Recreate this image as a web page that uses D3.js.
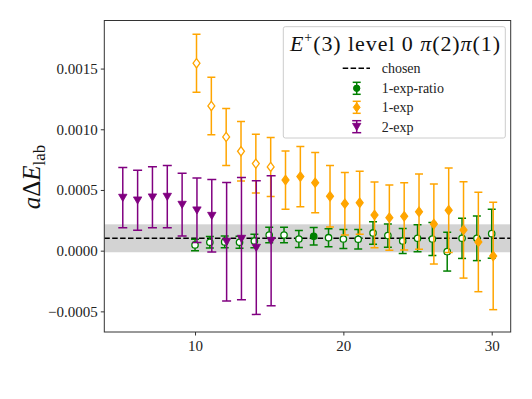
<!DOCTYPE html>
<html><head><meta charset="utf-8">
<script src="https://cdn.jsdelivr.net/npm/d3@7"></script>
<style>body{margin:0;background:#fff}svg{display:block}text{font-family:"Liberation Serif","DejaVu Serif",serif}</style>
</head><body><svg id="c" width="532" height="399"></svg>
<script>
// ---- data ----
const ratioT = [10,11,12,13,14,15,16,17,18,19,20,21,22,23,24,25,26,27,28,29,30];
const ratioV = [0.000047,0.000069,0.000072,0.000069,0.000080,0.000129,0.000129,0.000096,0.000118,0.000107,0.000096,0.000094,0.000146,0.000124,0.000080,0.000102,0.000096,-0.000008,0.000102,0.000102,0.000140];
const ratioE = [0.000048,0.000048,0.000048,0.000050,0.000056,0.000063,0.000063,0.000070,0.000072,0.000074,0.000079,0.000080,0.000093,0.000096,0.000103,0.000111,0.000136,0.000160,0.000166,0.000184,0.000202];
const chosenT = 18;

const oneT = [10,11,12,13,14,15,16,17,18,19,20,21,22,23,24,25,26,27,28,29,30];
const oneV = [0.001544,0.001192,0.000937,0.000819,0.000717,0.000690,0.000582,0.000610,0.000560,0.000448,0.000387,0.000395,0.000294,0.000272,0.000283,0.000321,0.000220,0.000333,0.000171,0.000072,-0.000044];
const oneE = [0.000239,0.000237,0.000235,0.000245,0.000242,0.000243,0.000240,0.000248,0.000248,0.000253,0.000257,0.000260,0.000271,0.000268,0.000277,0.000310,0.000330,0.000348,0.000397,0.000410,0.000442];
const oneOpenUntil = 15;

const twoT = [5,6,7,8,9,10,11,12,13,14,15];
const twoV = [0.000437,0.000415,0.000440,0.000445,0.000379,0.000333,0.000288,0.000074,0.000099,0.000025,0.000082];
const twoE = [0.000248,0.000247,0.000252,0.000257,0.000258,0.000265,0.000299,0.000488,0.000504,0.000550,0.000536];

const chosenVal = 0.000102, chosenErr = 0.000115;
const yTicks = [-0.0005, 0.0, 0.0005, 0.0010, 0.0015];
const xTicks = [10, 20, 30];
const legendLabels = ["chosen", "1-exp-ratio", "1-exp", "2-exp"];

// ---- layout ----
const L = 104.3, R = 510.7, T = 20.5, B = 332;
const svg = d3.select("#c");
const x = d3.scaleLinear().domain([3.884, 31.28]).range([L, R]);
const y = d3.scaleLinear().domain([-0.000670, 0.001896]).range([B, T]);
const GREEN = "#008000", ORANGE = "#ffa500", PURPLE = "#800080";
const offO = 0.1, offP = 0.13;

const g = svg.append("g");
g.append("defs").append("clipPath").attr("id","clip").append("rect").attr("x",L).attr("y",T).attr("width",R-L).attr("height",B-T);
const pg = g.append("g").attr("clip-path","url(#clip)");

// band and chosen line
pg.append("rect").attr("x", L).attr("width", R-L)
  .attr("y", y(chosenVal+chosenErr)).attr("height", y(chosenVal-chosenErr)-y(chosenVal+chosenErr))
  .attr("fill", "#d3d3d3");
pg.append("line").attr("x1", L).attr("x2", R).attr("y1", y(chosenVal)).attr("y2", y(chosenVal))
  .attr("stroke", "#000").attr("stroke-width", 1.5).attr("stroke-dasharray", "5.5,2.4");

function errbars(T_, V, E, col, off, cap) {
  const sel = pg.append("g").attr("stroke", col).attr("stroke-width", 1.5).attr("fill","none");
  T_.forEach((t,i)=>{
    const cx = x(t+off), y1 = y(V[i]+E[i]), y2 = y(V[i]-E[i]);
    sel.append("line").attr("x1",cx).attr("x2",cx).attr("y1",y1).attr("y2",y2);
    sel.append("line").attr("x1",cx-cap).attr("x2",cx+cap).attr("y1",y1).attr("y2",y1);
    sel.append("line").attr("x1",cx-cap).attr("x2",cx+cap).attr("y1",y2).attr("y2",y2);
  });
}
const diamond = (cx, cy, r) => `M${cx},${cy-r}L${cx+r*0.75},${cy}L${cx},${cy+r}L${cx-r*0.75},${cy}Z`;
const tri = (cx, cy, r) => `M${cx-r},${cy-r*0.8}L${cx+r},${cy-r*0.8}L${cx},${cy+r*0.9}Z`;

// 1-exp-ratio (green)
errbars(ratioT, ratioV, ratioE, GREEN, 0, 4);
ratioT.forEach((t,i)=>{
  pg.append("circle").attr("cx", x(t)).attr("cy", y(ratioV[i])).attr("r", 3.2)
    .attr("fill", t===chosenT ? GREEN : "#fff").attr("stroke", GREEN).attr("stroke-width", 1.3);
});
// 1-exp (orange)
errbars(oneT, oneV, oneE, ORANGE, offO, 4);
oneT.forEach((t,i)=>{
  const open = t <= oneOpenUntil;
  pg.append("path").attr("d", diamond(x(t+offO), y(oneV[i]), 4.6))
    .attr("fill", open ? "#fff" : ORANGE).attr("stroke", ORANGE).attr("stroke-width", 1.3);
});
// 2-exp (purple)
errbars(twoT, twoV, twoE, PURPLE, offP, 4.5);
twoT.forEach((t,i)=>{
  pg.append("path").attr("d", tri(x(t+offP), y(twoV[i]), 4.2)).attr("fill", PURPLE).attr("stroke", PURPLE).attr("stroke-width", 0.8);
});

// frame
g.append("rect").attr("x",L).attr("y",T).attr("width",R-L).attr("height",B-T).attr("fill","none").attr("stroke","#333").attr("stroke-width",1);

// axes
const xa = g.append("g").attr("transform", `translate(0,${B})`)
  .call(d3.axisBottom(x).tickValues(xTicks).tickSize(3.5).tickPadding(3).tickFormat(d3.format("d")));
const ya = g.append("g").attr("transform", `translate(${L},0)`)
  .call(d3.axisLeft(y).tickValues(yTicks).tickSize(3.5).tickPadding(3).tickFormat(d => d3.format(".4f")(d).replace("-", "\u2212")));
[xa, ya].forEach(a => {
  a.select(".domain").remove();
  a.selectAll(".tick line").attr("stroke", "#333");
  a.selectAll("text").attr("font-size", 15).attr("fill", "#222").attr("font-family", "Liberation Serif, serif");
});
xa.selectAll("text").attr("dy", "0.8em");

// y label
const yl = g.append("text").attr("transform", "translate(40,177) rotate(-90)").attr("text-anchor","middle")
  .attr("font-size", 25).attr("fill","#111");
yl.append("tspan").attr("font-style","italic").text("a");
yl.append("tspan").text("\u0394");
yl.append("tspan").attr("font-style","italic").text("E");
yl.append("tspan").attr("font-size", 17).attr("dy", 5).text("lab");

// legend
const lg = g.append("g");
lg.append("rect").attr("x", 283.3).attr("y", 26.7).attr("width", 222).attr("height", 111.3).attr("rx", 2)
  .attr("fill", "#fff").attr("fill-opacity", 0.8).attr("stroke", "#ccc").attr("stroke-width", 1);
const title = lg.append("text").attr("x", 290).attr("y", 51).attr("font-size", 22).attr("fill","#111")
  .attr("textLength", 210).attr("lengthAdjust", "spacing");
title.append("tspan").attr("font-style","italic").text("E");
title.append("tspan").attr("font-size", 14).attr("dy", -9).text("+");
title.append("tspan").attr("dy", 9).text("(3) level 0 ");
title.append("tspan").attr("font-style","italic").text("\u03c0");
title.append("tspan").text("(2)");
title.append("tspan").attr("font-style","italic").text("\u03c0");
title.append("tspan").text("(1)");

const rowY = [68.3, 88.3, 107.3, 126.7];
const hx = 356.7, tx = 381.7;
lg.append("line").attr("x1", 342.7).attr("x2", 370).attr("y1", rowY[0]).attr("y2", rowY[0])
  .attr("stroke","#000").attr("stroke-width",1.5).attr("stroke-dasharray","5.5,2.4");
function legErr(yy, col, cap) {
  lg.append("line").attr("x1",hx).attr("x2",hx).attr("y1",yy-6).attr("y2",yy+6).attr("stroke",col).attr("stroke-width",1.5);
  lg.append("line").attr("x1",hx-cap).attr("x2",hx+cap).attr("y1",yy-6).attr("y2",yy-6).attr("stroke",col).attr("stroke-width",1.5);
  lg.append("line").attr("x1",hx-cap).attr("x2",hx+cap).attr("y1",yy+6).attr("y2",yy+6).attr("stroke",col).attr("stroke-width",1.5);
}
legErr(rowY[1], GREEN, 4);
lg.append("circle").attr("cx", hx).attr("cy", rowY[1]).attr("r", 3.2).attr("fill", GREEN).attr("stroke", GREEN);
legErr(rowY[2], ORANGE, 4);
lg.append("path").attr("d", diamond(hx, rowY[2], 4.6)).attr("fill", ORANGE).attr("stroke", ORANGE);
legErr(rowY[3], PURPLE, 4.5);
lg.append("path").attr("d", tri(hx, rowY[3], 4.2)).attr("fill", PURPLE).attr("stroke", PURPLE).attr("stroke-width",0.8);
legendLabels.forEach((s,i)=>{
  lg.append("text").attr("x", tx).attr("y", rowY[i]).attr("dy","0.35em").attr("font-size", 14).attr("fill","#222").text(s);
});
</script></body></html>
